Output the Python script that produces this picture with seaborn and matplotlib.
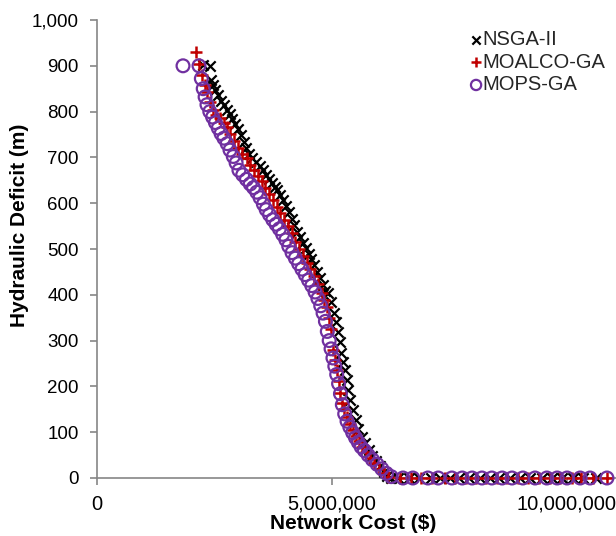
import numpy as np
import pandas as pd
import matplotlib
matplotlib.use("Agg")
import matplotlib.pyplot as plt
import seaborn as sns
from matplotlib.ticker import FuncFormatter, FixedLocator

# Pareto fronts: network cost (million $) vs hydraulic deficit (m)
nsga_cost = [2.26, 2.40, 2.42, 2.47, 2.52, 2.58, 2.64, 2.70, 2.76, 2.82, 2.88, 2.94,
             3.00, 3.06, 3.12, 3.18, 3.24, 3.30, 3.38, 3.46, 3.54, 3.60, 3.66, 3.72,
             3.78, 3.84, 3.90, 3.96, 4.02, 4.08, 4.14, 4.20, 4.26, 4.32, 4.38, 4.44,
             4.50, 4.56, 4.62, 4.68, 4.74, 4.80, 4.86, 4.92, 4.98, 5.04, 5.08, 5.12,
             5.16, 5.20, 5.24, 5.28, 5.32, 5.35, 5.38, 5.44, 5.50, 5.56, 5.63, 5.70,
             5.78, 5.86, 5.94, 6.02, 6.10, 6.18, 6.26,
             6.40, 6.64, 6.86, 7.10, 7.30, 7.50, 7.70, 7.92, 8.14, 8.36, 8.56, 8.78,
             9.00, 9.22, 9.46, 9.68, 9.90, 10.12, 10.35, 10.62]
nsga_deficit = [902, 900, 870, 858, 848, 836, 824, 814, 804, 794, 784, 772,
                762, 748, 734, 720, 708, 698, 690, 682, 672, 662, 652, 644,
                636, 628, 618, 606, 594, 580, 566, 552, 538, 526, 514, 502,
                490, 478, 464, 450, 436, 422, 408, 404, 384, 360, 340, 318,
                296, 274, 254, 236, 214, 192, 170, 148, 126, 108, 90, 76,
                62, 48, 38, 26, 14, 5, 0,
                0, 0, 0, 0, 0, 0, 0, 0, 0, 0, 0, 0,
                0, 0, 0, 0, 0, 0, 0, 0]

moalco_cost = [2.10, 2.17, 2.24, 2.30, 2.34, 2.40, 2.46, 2.54, 2.62, 2.70, 2.77, 2.84,
               2.92, 3.00, 3.08, 3.19, 3.26, 3.34, 3.42, 3.50, 3.58, 3.66, 3.74, 3.82,
               3.90, 3.98, 4.06, 4.14, 4.22, 4.30, 4.38, 4.46, 4.54, 4.62, 4.70, 4.78,
               4.84, 4.89, 4.93, 4.97, 5.02, 5.06, 5.10, 5.14, 5.17, 5.21, 5.26, 5.32,
               5.38, 5.44, 5.50, 5.57, 5.64, 5.72, 5.80, 5.90, 6.00, 6.10, 6.20,
               6.45, 6.68, 6.90, 7.12, 7.40, 7.62, 7.85, 8.06, 8.28, 8.50, 8.72, 8.95,
               9.18, 9.40, 9.64, 9.86, 10.10, 10.30, 10.55, 10.85]
moalco_deficit = [930, 904, 880, 858, 843, 820, 803, 792, 786, 776, 766, 752,
                  736, 720, 708, 699, 684, 672, 660, 648, 634, 620, 606, 592,
                  578, 564, 550, 534, 516, 500, 484, 470, 456, 440, 424, 404,
                  388, 373, 350, 326, 280, 258, 236, 212, 186, 164, 150, 134,
                  118, 104, 92, 80, 68, 56, 44, 32, 20, 10, 3,
                  0, 0, 0, 0, 0, 0, 0, 0, 0, 0, 0, 0,
                  0, 0, 0, 0, 0, 0, 0, 0]

mops_cost = [1.83, 2.17, 2.22, 2.26, 2.30, 2.34, 2.40, 2.46, 2.52, 2.58, 2.64, 2.70,
             2.77, 2.83, 2.90, 2.96, 3.02, 3.10, 3.18, 3.26, 3.33, 3.40, 3.47, 3.54,
             3.60, 3.67, 3.74, 3.81, 3.88, 3.95, 4.02, 4.08, 4.15, 4.22, 4.29, 4.36,
             4.43, 4.50, 4.57, 4.64, 4.70, 4.76, 4.81, 4.86, 4.90, 4.94, 4.98, 5.02,
             5.06, 5.10, 5.14, 5.18, 5.22, 5.27, 5.32, 5.38, 5.44, 5.50, 5.56, 5.62,
             5.69, 5.77, 5.86, 5.96, 6.06, 6.16, 6.26,
             6.51, 6.72, 7.04, 7.26, 7.55, 7.77, 7.98, 8.19, 8.40, 8.62, 8.83, 9.06,
             9.32, 9.57, 9.79, 10.00, 10.28, 10.49, 10.85]
mops_deficit = [900, 900, 872, 850, 832, 815, 800, 788, 776, 764, 752, 742,
                730, 716, 702, 688, 672, 662, 652, 642, 634, 624, 612, 598,
                586, 575, 564, 554, 544, 532, 520, 506, 492, 480, 468, 456,
                444, 432, 420, 406, 392, 376, 360, 342, 320, 300, 282, 262,
                244, 226, 206, 184, 160, 140, 124, 111, 99, 88, 78, 68,
                60, 50, 40, 30, 20, 10, 3,
                0, 0, 0, 0, 0, 0, 0, 0, 0, 0, 0, 0,
                0, 0, 0, 0, 0, 0, 0]

series_names = ["NSGA-II", "MOALCO-GA", "MOPS-GA"]
x_ticks = [0, 5_000_000, 10_000_000]
y_ticks = [0, 100, 200, 300, 400, 500, 600, 700, 800, 900, 1000]

sns.set_theme(style="white")
plt.rcParams["font.family"] = ["Liberation Sans", "DejaVu Sans"]

fig = plt.figure(figsize=(6.16, 5.36), dpi=100)
W, H = 616, 536
ax = fig.add_axes([97 / W, 58 / H, (W - 97) / W, (478 - 20) / H])

grey = "#868686"
purple = "#7030A0"
red = "#C00000"

frames = {
    "NSGA-II": pd.DataFrame({"cost": np.array(nsga_cost) * 1e6, "deficit": nsga_deficit}),
    "MOALCO-GA": pd.DataFrame({"cost": np.array(moalco_cost) * 1e6, "deficit": moalco_deficit}),
    "MOPS-GA": pd.DataFrame({"cost": np.array(mops_cost) * 1e6, "deficit": mops_deficit}),
}

sns.scatterplot(data=frames["NSGA-II"], x="cost", y="deficit", ax=ax,
                marker="x", color="black", s=55, linewidth=1.6,
                label=series_names[0], clip_on=False, zorder=3)
sns.scatterplot(data=frames["MOALCO-GA"], x="cost", y="deficit", ax=ax,
                marker="+", color=red, s=80, linewidth=1.8,
                label=series_names[1], clip_on=False, zorder=4)
sns.scatterplot(data=frames["MOPS-GA"], x="cost", y="deficit", ax=ax,
                marker="o", facecolor="none", edgecolor=purple, s=85, linewidth=1.6,
                label=series_names[2], clip_on=False, zorder=5)

ax.set_xlim(0, (W - 97) / 47.0 * 1e6)
ax.set_ylim(0, 1000)
ax.xaxis.set_major_locator(FixedLocator(x_ticks))
ax.yaxis.set_major_locator(FixedLocator(y_ticks))
ax.xaxis.set_major_formatter(FuncFormatter(lambda v, p: f"{int(v):,}"))
ax.yaxis.set_major_formatter(FuncFormatter(lambda v, p: f"{int(v):,}"))

for side in ["top", "right"]:
    ax.spines[side].set_visible(False)
for side in ["left", "bottom"]:
    ax.spines[side].set_color(grey)
    ax.spines[side].set_linewidth(1.2)

ax.tick_params(axis="both", which="major", direction="out", length=5, width=1.2,
               color=grey, labelcolor="black", pad=8, left=True, bottom=True)
ax.tick_params(axis="y", labelsize=13.5)
ax.tick_params(axis="x", labelsize=14.5, pad=7)
ax.grid(False)

ax.set_xlabel("Network Cost ($)", fontsize=15, fontweight="bold", color="black")
ax.set_ylabel("Hydraulic Deficit (m)", fontsize=15, fontweight="bold", color="black")
ax.xaxis.set_label_coords((353 - 97) / (W - 97), (478 - 514) / 458)
ax.yaxis.set_label_coords((29 - 97) / (W - 97), (478 - 225) / 458)

leg = ax.legend(loc="upper left", bbox_to_anchor=(466 / W, 1 - 30 / H),
                bbox_transform=fig.transFigure, frameon=False,
                fontsize=14.5, handletextpad=-0.2, handlelength=1.0,
                labelspacing=0.18, borderpad=0, borderaxespad=0,
                markerscale=0.8)

fig.savefig("out.png", dpi=100)
